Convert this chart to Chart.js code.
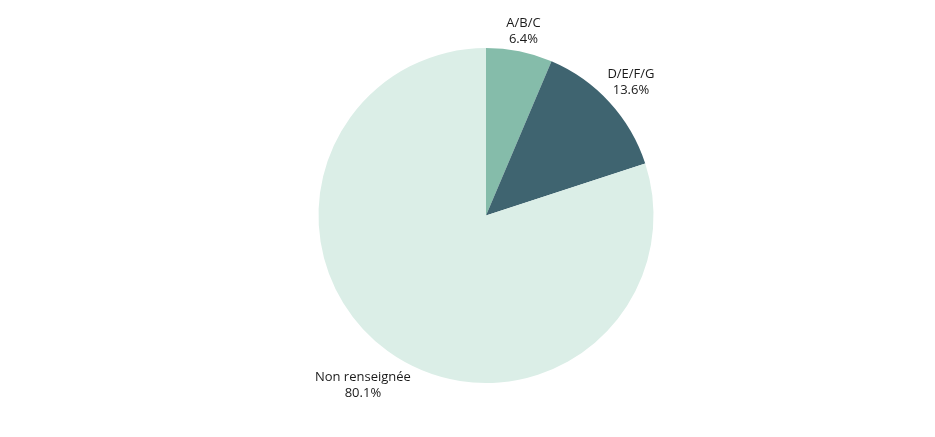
<!DOCTYPE html>
<html>
<head>
<meta charset="utf-8">
<script src="https://cdn.jsdelivr.net/npm/chart.js@4/dist/chart.umd.min.js"></script>
<style>
  html, body { margin: 0; padding: 0; background: #fff; }
</style>
</head>
<body>
<canvas id="myChart" width="935" height="437"></canvas>
<script>
const categories = ['A/B/C', 'D/E/F/G', 'Non renseignée'];
const shares = [6.4, 13.6, 80.1];
const sliceColors = ['#85bcaa', '#3f6470', '#dbeee7'];

// Draw "label / value%" outside each slice, pushed out along its mid angle
const outsideLabels = {
    id: 'outsideLabels',
    afterDatasetsDraw(chart) {
        const ctx = chart.ctx;
        const meta = chart.getDatasetMeta(0);
        ctx.save();
        ctx.font = '13px "Open Sans"';
        ctx.fillStyle = '#1a1a1a';
        ctx.textAlign = 'center';
        ctx.textBaseline = 'middle';
        meta.data.forEach((arc, i) => {
            const p = arc.getProps(['x', 'y', 'startAngle', 'endAngle', 'outerRadius'], true);
            const mid = (p.startAngle + p.endAngle) / 2;
            const dx = Math.cos(mid);
            const dy = Math.sin(mid);
            const lines = [categories[i], shares[i].toFixed(1) + '%'];
            const hw = Math.max(...lines.map(t => ctx.measureText(t).width)) / 2;
            const hh = 16;
            const dist = p.outerRadius + 1 + Math.abs(dx) * hw + Math.abs(dy) * hh;
            const cx = p.x + dx * dist;
            const cy = p.y + dy * dist;
            ctx.fillText(lines[0], cx, cy - 8);
            ctx.fillText(lines[1], cx, cy + 8);
        });
        ctx.restore();
    }
};

const ctx = document.getElementById('myChart').getContext('2d');
const myChart = new Chart(ctx, {
    type: 'pie',
    data: {
        labels: categories,
        datasets: [{
            data: shares,
            backgroundColor: sliceColors,
            borderWidth: 0
        }]
    },
    options: {
        responsive: false,
        animation: false,
        layout: {
            padding: { top: 48, bottom: 54, left: 37, right: 0 }
        },
        plugins: {
            legend: { display: false },
            tooltip: { enabled: false }
        }
    },
    plugins: [outsideLabels]
});
</script>
</body>
</html>
